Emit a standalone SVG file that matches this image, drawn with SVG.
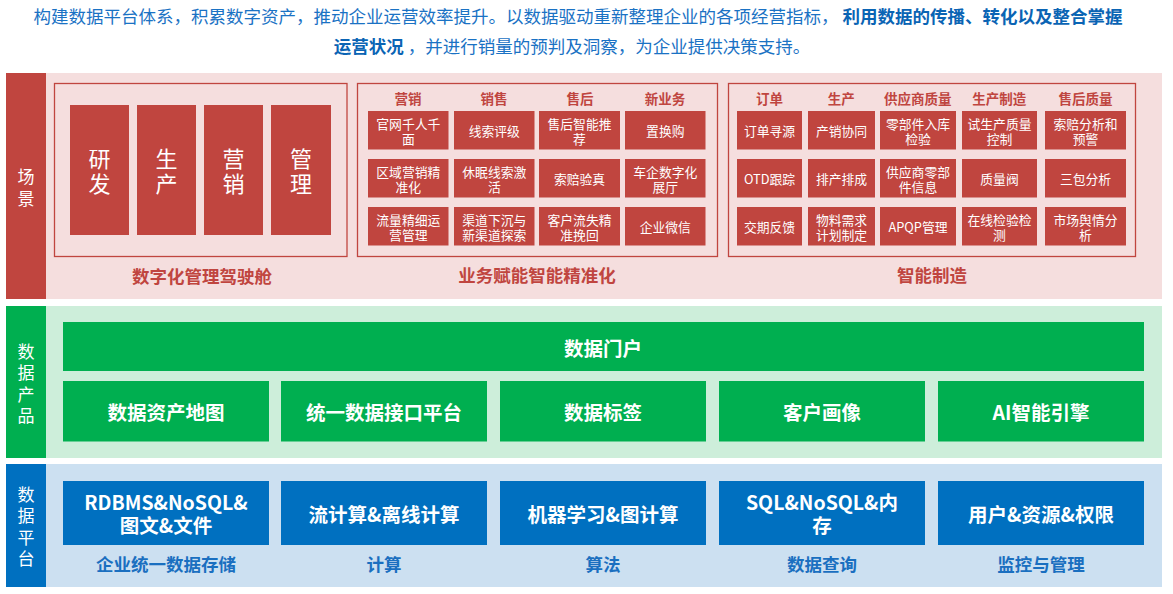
<svg xmlns="http://www.w3.org/2000/svg" width="1173" height="594" viewBox="0 0 1173 594">
<style>
text{font-family:"Microsoft YaHei","Noto Sans CJK SC","Liberation Sans",sans-serif;}
tspan{dominant-baseline:inherit;}
.intro{font-size:17.5px;fill:#1A72C4;}
.introb{font-weight:bold;fill:#0A64B4;}
.red{fill:#C0453F;}
.pink{fill:#F5DEDE;}
.frame{fill:none;stroke:#C0453F;stroke-width:1.3;}
.side{font-size:17px;fill:#fff;text-anchor:middle;dominant-baseline:central;}
.big{font-size:22px;fill:#fff;text-anchor:middle;dominant-baseline:central;}
.cell{font-size:12.8px;fill:#fff;text-anchor:middle;dominant-baseline:central;}
.hdr{font-size:13.5px;font-weight:bold;fill:#C0453F;text-anchor:middle;dominant-baseline:central;}
.cap{font-size:17.5px;font-weight:bold;fill:#C0453F;text-anchor:middle;dominant-baseline:central;}
.green{fill:#00AF50;}
.lgreen{fill:#CDEEDA;}
.blue{fill:#0070C0;}
.lblue{fill:#CCE0F1;}
.wb{font-size:19.5px;font-weight:bold;fill:#fff;text-anchor:middle;dominant-baseline:central;}
.bcap{font-size:17.5px;font-weight:bold;fill:#1A6FC0;text-anchor:middle;dominant-baseline:central;}
</style>

<g id="intro">
<text class="intro" x="578" y="23" text-anchor="middle">构建数据平台体系，积累数字资产，推动企业运营效率提升。以数据驱动重新整理企业的各项经营指标， <tspan class="introb">利用数据的传播、转化以及整合掌握</tspan></text>
<text class="intro" x="572" y="53" text-anchor="middle"><tspan class="introb">运营状况</tspan> ，并进行销量的预判及洞察，为企业提供决策支持。</text>
</g>

<!-- Scene layer -->
<g id="scene-layer">
<rect class="pink" x="46" y="73" width="1116" height="226"/>
<rect class="red" x="6" y="73" width="40" height="226"/>
<text class="side"><tspan x="26" y="175">场</tspan><tspan x="26" y="197">景</tspan></text>
</g>

<g id="cockpit">
<rect class="frame" x="54.5" y="83.5" width="292.5" height="173"/>
<g id="c-yanfa"><rect class="red" x="70" y="105" width="59" height="130"/><text class="big"><tspan x="99.5" y="157">研</tspan><tspan x="99.5" y="182">发</tspan></text></g>
<g id="c-shengchan"><rect class="red" x="137" y="105" width="59" height="130"/><text class="big"><tspan x="166.5" y="157">生</tspan><tspan x="166.5" y="182">产</tspan></text></g>
<g id="c-yingxiao"><rect class="red" x="204" y="105" width="59" height="130"/><text class="big"><tspan x="233.5" y="157">营</tspan><tspan x="233.5" y="182">销</tspan></text></g>
<g id="c-guanli"><rect class="red" x="271" y="105" width="60" height="130"/><text class="big"><tspan x="301" y="157">管</tspan><tspan x="301" y="182">理</tspan></text></g>
<text class="cap" x="202" y="275">数字化管理驾驶舱</text>
</g>

<g id="business">
<rect class="frame" x="357.5" y="83.5" width="360" height="173"/>
<text class="hdr" x="408" y="98">营销</text>
<text class="hdr" x="494" y="98">销售</text>
<text class="hdr" x="580" y="98">售后</text>
<text class="hdr" x="665" y="98">新业务</text>
<g id="b11"><rect class="red" x="368" y="111" width="80.5" height="38.5"/><text class="cell"><tspan x="408.3" y="122.8">官网千人千</tspan><tspan x="408.3" y="137.8">面</tspan></text></g>
<g id="b12"><rect class="red" x="454" y="111" width="80.5" height="38.5"/><text class="cell" x="494.3" y="130.3">线索评级</text></g>
<g id="b13"><rect class="red" x="539" y="111" width="81" height="38.5"/><text class="cell"><tspan x="579.5" y="122.8">售后智能推</tspan><tspan x="579.5" y="137.8">荐</tspan></text></g>
<g id="b14"><rect class="red" x="625" y="111" width="80.5" height="38.5"/><text class="cell" x="665.3" y="130.3">置换购</text></g>
<g id="b21"><rect class="red" x="368" y="159" width="80.5" height="38.5"/><text class="cell"><tspan x="408.3" y="170.8">区域营销精</tspan><tspan x="408.3" y="185.8">准化</tspan></text></g>
<g id="b22"><rect class="red" x="454" y="159" width="80.5" height="38.5"/><text class="cell"><tspan x="494.3" y="170.8">休眠线索激</tspan><tspan x="494.3" y="185.8">活</tspan></text></g>
<g id="b23"><rect class="red" x="539" y="159" width="81" height="38.5"/><text class="cell" x="579.5" y="178.3">索赔验真</text></g>
<g id="b24"><rect class="red" x="625" y="159" width="80.5" height="38.5"/><text class="cell"><tspan x="665.3" y="170.8">车企数字化</tspan><tspan x="665.3" y="185.8">展厅</tspan></text></g>
<g id="b31"><rect class="red" x="368" y="207" width="80.5" height="38.5"/><text class="cell"><tspan x="408.3" y="218.8">流量精细运</tspan><tspan x="408.3" y="233.8">营管理</tspan></text></g>
<g id="b32"><rect class="red" x="454" y="207" width="80.5" height="38.5"/><text class="cell"><tspan x="494.3" y="218.8">渠道下沉与</tspan><tspan x="494.3" y="233.8">新渠道探索</tspan></text></g>
<g id="b33"><rect class="red" x="539" y="207" width="81" height="38.5"/><text class="cell"><tspan x="579.5" y="218.8">客户流失精</tspan><tspan x="579.5" y="233.8">准挽回</tspan></text></g>
<g id="b34"><rect class="red" x="625" y="207" width="80.5" height="38.5"/><text class="cell" x="665.3" y="226.3">企业微信</text></g>
<text class="cap" x="537" y="274">业务赋能智能精准化</text>
</g>

<g id="manufacturing">
<rect class="frame" x="728.5" y="83.5" width="407" height="173"/>
<text class="hdr" x="769.5" y="98">订单</text>
<text class="hdr" x="841.3" y="98">生产</text>
<text class="hdr" x="917.8" y="98">供应商质量</text>
<text class="hdr" x="999.3" y="98">生产制造</text>
<text class="hdr" x="1085.5" y="98">售后质量</text>
<g id="m11"><rect class="red" x="737" y="111" width="65" height="38.5"/><text class="cell" x="769.5" y="130.3">订单寻源</text></g>
<g id="m12"><rect class="red" x="808" y="111" width="67" height="38.5"/><text class="cell" x="841.5" y="130.3">产销协同</text></g>
<g id="m13"><rect class="red" x="880" y="111" width="76" height="38.5"/><text class="cell"><tspan x="918" y="122.8">零部件入库</tspan><tspan x="918" y="137.8">检验</tspan></text></g>
<g id="m14"><rect class="red" x="962" y="111" width="75" height="38.5"/><text class="cell"><tspan x="999.5" y="122.8">试生产质量</tspan><tspan x="999.5" y="137.8">控制</tspan></text></g>
<g id="m15"><rect class="red" x="1045" y="111" width="81" height="38.5"/><text class="cell"><tspan x="1085.5" y="122.8">索赔分析和</tspan><tspan x="1085.5" y="137.8">预警</tspan></text></g>
<g id="m21"><rect class="red" x="737" y="159" width="65" height="38.5"/><text class="cell" x="769.5" y="178.3">OTD跟踪</text></g>
<g id="m22"><rect class="red" x="808" y="159" width="67" height="38.5"/><text class="cell" x="841.5" y="178.3">排产排成</text></g>
<g id="m23"><rect class="red" x="880" y="159" width="76" height="38.5"/><text class="cell"><tspan x="918" y="170.8">供应商零部</tspan><tspan x="918" y="185.8">件信息</tspan></text></g>
<g id="m24"><rect class="red" x="962" y="159" width="75" height="38.5"/><text class="cell" x="999.5" y="178.3">质量阀</text></g>
<g id="m25"><rect class="red" x="1045" y="159" width="81" height="38.5"/><text class="cell" x="1085.5" y="178.3">三包分析</text></g>
<g id="m31"><rect class="red" x="737" y="207" width="65" height="38.5"/><text class="cell" x="769.5" y="226.3">交期反馈</text></g>
<g id="m32"><rect class="red" x="808" y="207" width="67" height="38.5"/><text class="cell"><tspan x="841.5" y="218.8">物料需求</tspan><tspan x="841.5" y="233.8">计划制定</tspan></text></g>
<g id="m33"><rect class="red" x="880" y="207" width="76" height="38.5"/><text class="cell" x="918" y="226.3">APQP管理</text></g>
<g id="m34"><rect class="red" x="962" y="207" width="75" height="38.5"/><text class="cell"><tspan x="999.5" y="218.8">在线检验检</tspan><tspan x="999.5" y="233.8">测</tspan></text></g>
<g id="m35"><rect class="red" x="1045" y="207" width="81" height="38.5"/><text class="cell"><tspan x="1085.5" y="218.8">市场舆情分</tspan><tspan x="1085.5" y="233.8">析</tspan></text></g>
<text class="cap" x="932" y="274">智能制造</text>
</g>

<!-- Data product layer -->
<g id="product-layer">
<rect class="lgreen" x="46" y="306" width="1116" height="152"/>
<rect class="green" x="6" y="306" width="40" height="152"/>
<text class="side"><tspan x="26" y="350">数</tspan><tspan x="26" y="371">据</tspan><tspan x="26" y="393">产</tspan><tspan x="26" y="414">品</tspan></text>
</g>
<g id="p-portal"><rect class="green" x="63" y="322" width="1081" height="49"/><text class="wb" x="603" y="347">数据门户</text></g>
<g id="p-map"><rect class="green" x="63" y="381" width="206" height="60.5"/><text class="wb" x="166" y="411">数据资产地图</text></g>
<g id="p-api"><rect class="green" x="281" y="381" width="206" height="60.5"/><text class="wb" x="384" y="411">统一数据接口平台</text></g>
<g id="p-tag"><rect class="green" x="500" y="381" width="206" height="60.5"/><text class="wb" x="603" y="411">数据标签</text></g>
<g id="p-profile"><rect class="green" x="719" y="381" width="206" height="60.5"/><text class="wb" x="822" y="411">客户画像</text></g>
<g id="p-ai"><rect class="green" x="938" y="381" width="206" height="60.5"/><text class="wb" x="1041" y="411">AI智能引擎</text></g>

<!-- Data platform layer -->
<g id="platform-layer">
<rect class="lblue" x="46" y="464" width="1116" height="123"/>
<rect class="blue" x="6" y="464" width="40" height="123"/>
<text class="side"><tspan x="26" y="493">数</tspan><tspan x="26" y="514">据</tspan><tspan x="26" y="536">平</tspan><tspan x="26" y="557">台</tspan></text>
</g>
<g id="d-storage"><rect class="blue" x="63" y="481" width="206" height="64"/><text class="wb"><tspan x="166" y="501">RDBMS&amp;NoSQL&amp;</tspan><tspan x="166" y="524">图文&amp;文件</tspan></text><text class="bcap" x="166" y="563">企业统一数据存储</text></g>
<g id="d-compute"><rect class="blue" x="281" y="481" width="206" height="64"/><text class="wb" x="384" y="513">流计算&amp;离线计算</text><text class="bcap" x="384" y="563">计算</text></g>
<g id="d-algo"><rect class="blue" x="500" y="481" width="206" height="64"/><text class="wb" x="603" y="513">机器学习&amp;图计算</text><text class="bcap" x="603" y="563">算法</text></g>
<g id="d-query"><rect class="blue" x="719" y="481" width="206" height="64"/><text class="wb"><tspan x="822" y="501">SQL&amp;NoSQL&amp;内</tspan><tspan x="822" y="524">存</tspan></text><text class="bcap" x="822" y="563">数据查询</text></g>
<g id="d-admin"><rect class="blue" x="938" y="481" width="206" height="64"/><text class="wb" x="1041" y="513">用户&amp;资源&amp;权限</text><text class="bcap" x="1041" y="563">监控与管理</text></g>

<g id="connectors"/>
</svg>
